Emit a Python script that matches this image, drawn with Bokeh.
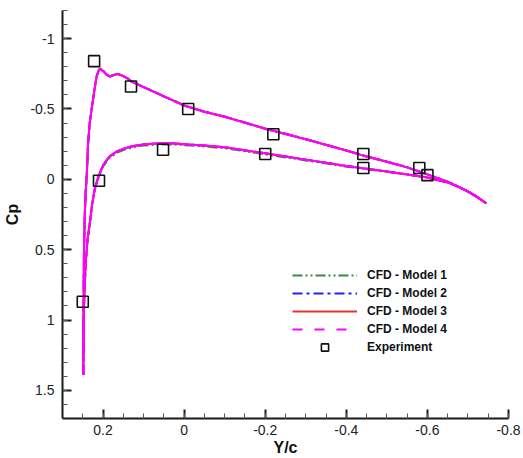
from bokeh.plotting import figure
from bokeh.models import Range1d, FixedTicker, Legend, LegendItem
from bokeh.embed import file_html
from bokeh.resources import INLINE

# Surface stations (Y/c) for the suction (upper) and pressure (lower) branches
y_upper = [0.249, 0.248, 0.247, 0.245, 0.243, 0.240, 0.237, 0.233, 0.228, 0.222,
           0.216, 0.210, 0.206, 0.198, 0.190, 0.183, 0.175, 0.165, 0.155, 0.141,
           0.130, 0.100, 0.050, 0.000, -0.050, -0.100, -0.200, -0.300, -0.400,
           -0.440, -0.500, -0.550, -0.600, -0.650, -0.675, -0.700, -0.720, -0.745]
y_lower = [0.249, 0.247, 0.243, 0.238, 0.233, 0.227, 0.220, 0.210, 0.200, 0.185,
           0.165, 0.145, 0.125, 0.100, 0.067, 0.030, 0.000, -0.050, -0.100, -0.200,
           -0.300, -0.400, -0.450, -0.500, -0.550, -0.600, -0.650, -0.675, -0.700,
           -0.720, -0.745]

# Cp per model, upper branch
cp_upper_m1 = [1.39, 0.90, 0.50, 0.25, 0.10, -0.04, -0.25, -0.40, -0.50, -0.62,
               -0.73, -0.78, -0.790, -0.770, -0.745, -0.735, -0.742, -0.750, -0.742, -0.722,
               -0.697, -0.657, -0.592, -0.527, -0.482, -0.447, -0.362, -0.287, -0.207,
               -0.172, -0.127, -0.087, -0.037, 0.017, 0.050, 0.085, 0.120, 0.170]
cp_upper_m2 = [1.39, 0.90, 0.50, 0.25, 0.10, -0.04, -0.25, -0.40, -0.50, -0.62,
               -0.73, -0.78, -0.785, -0.765, -0.740, -0.730, -0.740, -0.748, -0.740, -0.720,
               -0.695, -0.655, -0.590, -0.525, -0.480, -0.445, -0.360, -0.285, -0.205,
               -0.170, -0.125, -0.085, -0.035, 0.018, 0.050, 0.085, 0.120, 0.170]
cp_upper_m3 = [1.39, 0.90, 0.50, 0.25, 0.10, -0.04, -0.25, -0.40, -0.50, -0.62,
               -0.73, -0.78, -0.785, -0.765, -0.740, -0.730, -0.740, -0.748, -0.740, -0.720,
               -0.695, -0.655, -0.590, -0.525, -0.480, -0.445, -0.360, -0.285, -0.205,
               -0.170, -0.125, -0.085, -0.035, 0.018, 0.050, 0.085, 0.120, 0.170]
cp_upper_m4 = [1.39, 0.90, 0.50, 0.25, 0.10, -0.04, -0.25, -0.40, -0.50, -0.62,
               -0.73, -0.78, -0.785, -0.765, -0.740, -0.730, -0.740, -0.748, -0.740, -0.720,
               -0.695, -0.655, -0.590, -0.525, -0.480, -0.445, -0.360, -0.285, -0.205,
               -0.170, -0.125, -0.085, -0.035, 0.018, 0.050, 0.085, 0.120, 0.170]

# Cp per model, lower branch
cp_lower_m1 = [1.39, 0.90, 0.60, 0.42, 0.32, 0.18, 0.07, -0.02, -0.09, -0.15,
               -0.19, -0.213, -0.228, -0.240, -0.247, -0.248, -0.243, -0.233, -0.221, -0.178,
               -0.134, -0.090, -0.072, -0.053, -0.034, -0.013, 0.022, 0.052, 0.087,
               0.121, 0.170]
cp_lower_m2 = [1.39, 0.90, 0.60, 0.42, 0.32, 0.18, 0.06, -0.03, -0.10, -0.16,
               -0.20, -0.222, -0.237, -0.248, -0.255, -0.256, -0.250, -0.240, -0.228, -0.185,
               -0.140, -0.095, -0.075, -0.055, -0.035, -0.013, 0.022, 0.052, 0.087,
               0.121, 0.170]
cp_lower_m3 = [1.39, 0.90, 0.60, 0.42, 0.32, 0.18, 0.06, -0.03, -0.10, -0.16,
               -0.20, -0.222, -0.237, -0.248, -0.255, -0.256, -0.250, -0.240, -0.228, -0.185,
               -0.140, -0.095, -0.075, -0.055, -0.035, -0.013, 0.022, 0.052, 0.087,
               0.121, 0.170]
cp_lower_m4 = [1.39, 0.90, 0.60, 0.42, 0.32, 0.18, 0.06, -0.03, -0.10, -0.16,
               -0.20, -0.222, -0.237, -0.248, -0.255, -0.256, -0.250, -0.240, -0.228, -0.185,
               -0.140, -0.095, -0.075, -0.055, -0.035, -0.013, 0.022, 0.052, 0.087,
               0.121, 0.170]

# Measured pressure taps
exp_y = [0.250, 0.222, 0.210, 0.131, 0.052, -0.010, -0.200, -0.220, -0.442, -0.442, -0.580, -0.600]
exp_cp = [0.87, -0.84, 0.01, -0.66, -0.21, -0.50, -0.18, -0.32, -0.18, -0.08, -0.08, -0.03]

x_major = [0.2, 0.0, -0.2, -0.4, -0.6, -0.8]
x_labels = ["0.2", "0", "-0.2", "-0.4", "-0.6", "-0.8"]
y_major = [-1.0, -0.5, 0.0, 0.5, 1.0, 1.5]
y_labels = ["-1", "-0.5", "0", "0.5", "1", "1.5"]

FONT = "Liberation Sans"

p = figure(width=523, height=458, output_backend="svg", toolbar_location=None,
           x_range=Range1d(0.3, -0.8), y_range=Range1d(1.7, -1.2))
p.min_border_left = 62
p.min_border_right = 15
p.min_border_top = 10
p.min_border_bottom = 40
p.outline_line_color = None
p.xgrid.visible = False
p.ygrid.visible = False
p.background_fill_color = "white"
p.border_fill_color = "white"

p.xaxis.ticker = FixedTicker(ticks=x_major,
                             minor_ticks=[0.3 - 0.05 * i for i in range(23)])
p.yaxis.ticker = FixedTicker(ticks=y_major,
                             minor_ticks=[-1.2 + 0.1 * i for i in range(30)])
p.xaxis.major_label_overrides = {v: s for v, s in zip(x_major, x_labels)}
p.yaxis.major_label_overrides = {v: s for v, s in zip(y_major, y_labels)}

for ax in (p.xaxis, p.yaxis):
    ax.axis_line_width = 2
    ax.axis_line_color = "#1a1a1a"
    ax.major_tick_in = 9
    ax.major_tick_out = 0
    ax.minor_tick_in = 5
    ax.minor_tick_out = 0
    ax.major_tick_line_width = 2
    ax.major_tick_line_color = "#1a1a1a"
    ax.minor_tick_line_color = "#555555"
    ax.minor_tick_line_width = 1
    ax.major_label_text_font = FONT
    ax.major_label_text_font_size = "14px"
    ax.major_label_text_color = "#222222"
    ax.axis_label_text_font = FONT
    ax.axis_label_text_font_style = "bold"
    ax.axis_label_text_font_size = "16px"
    ax.axis_label_text_color = "#111111"

p.xaxis.axis_label = "Y/c"
p.yaxis.axis_label = "Cp"
p.xaxis.major_label_standoff = 6
p.yaxis.major_label_standoff = 8
p.xaxis.axis_label_standoff = 1
p.yaxis.axis_label_standoff = 6

GREEN = "#3a8a3a"
BLUE = "#1f1fff"
RED = "#e3342c"
MAGENTA = "#ff00ff"

m1 = [p.line(y, cp, line_color=GREEN, line_width=2, line_dash="10 3 2 3 2 3")
      for y, cp in ((y_upper, cp_upper_m1), (y_lower, cp_lower_m1))]
m2 = [p.line(y, cp, line_color=BLUE, line_width=2, line_dash="10 4 3 4")
      for y, cp in ((y_upper, cp_upper_m2), (y_lower, cp_lower_m2))]
m3 = [p.line(y, cp, line_color=RED, line_width=2)
      for y, cp in ((y_upper, cp_upper_m3), (y_lower, cp_lower_m3))]
# Model 4: dense solid trace, with its dashed style on top for the key
for y, cp in ((y_upper, cp_upper_m4), (y_lower, cp_lower_m4)):
    p.line(y, cp, line_color=MAGENTA, line_width=2)
m4 = [p.line(y, cp, line_color=MAGENTA, line_width=2, line_dash="10 12")
      for y, cp in ((y_upper, cp_upper_m4), (y_lower, cp_lower_m4))]

exp = p.scatter(exp_y, exp_cp, marker="square", size=11, line_color="#111111",
                line_width=1.6, fill_color=None)

legend = Legend(items=[
    LegendItem(label="CFD - Model 1", renderers=[m1[0]]),
    LegendItem(label="CFD - Model 2", renderers=[m2[0]]),
    LegendItem(label="CFD - Model 3", renderers=[m3[0]]),
    LegendItem(label="CFD - Model 4", renderers=[m4[0]]),
    LegendItem(label="Experiment", renderers=[exp]),
], location=(230, 62))
legend.border_line_color = None
legend.background_fill_alpha = 0
legend.padding = 0
legend.margin = 0
legend.spacing = 0
legend.glyph_width = 65
legend.glyph_height = 18
legend.label_height = 18
legend.label_standoff = 10
legend.label_text_font = FONT
legend.label_text_font_style = "bold"
legend.label_text_font_size = "12px"
legend.label_text_color = "#111111"
legend.label_text_baseline = "middle"
p.add_layout(legend, "center")

open("out.html", "w").write(file_html(p, INLINE))
